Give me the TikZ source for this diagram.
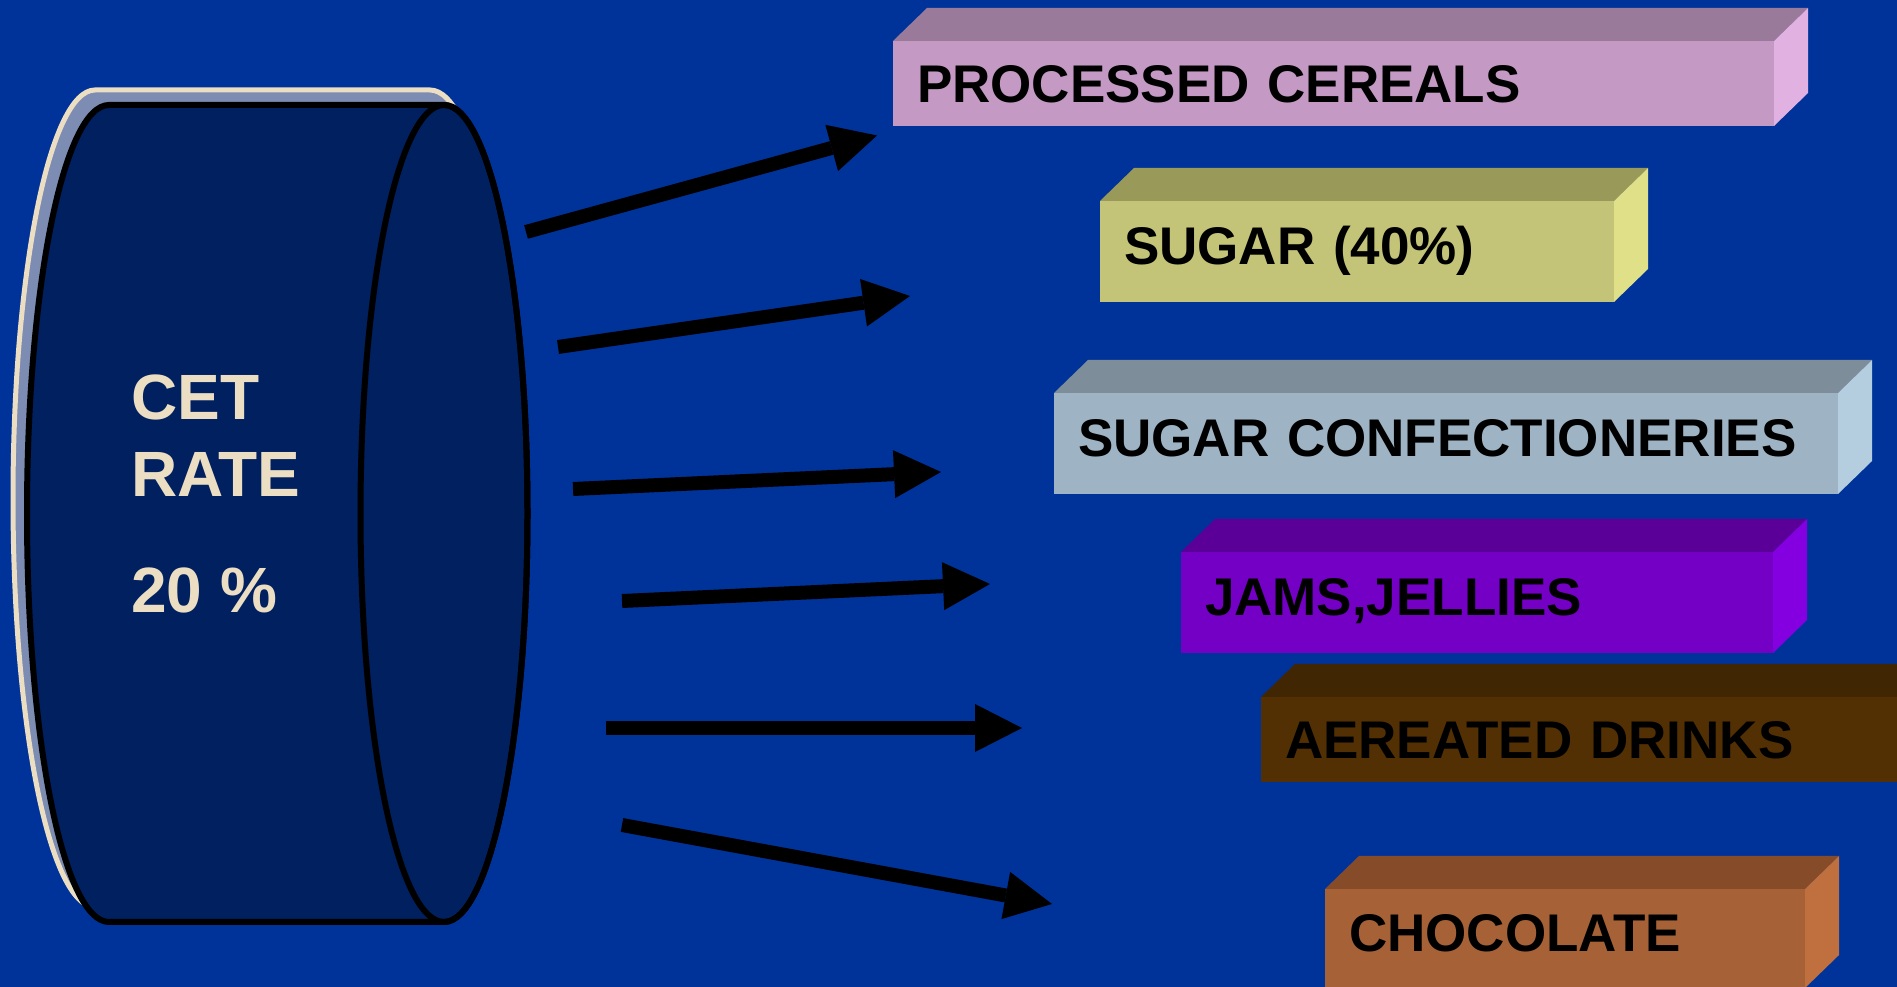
\documentclass[tikz,border=0pt]{standalone}
\usepackage{fontspec}
\setmainfont{Liberation Sans}
\usetikzlibrary{arrows.meta, calc}

\definecolor{slideblue}{RGB}{0,51,153}
\definecolor{drumdark}{RGB}{0,32,96}
\definecolor{drumgrey}{RGB}{125,140,178}
\definecolor{cream}{RGB}{235,222,195}
\definecolor{cerealfront}{RGB}{196,154,196}
\definecolor{cerealtop}{RGB}{154,122,154}
\definecolor{cerealside}{RGB}{225,177,225}
\definecolor{sugarfront}{RGB}{196,196,120}
\definecolor{sugartop}{RGB}{153,153,89}
\definecolor{sugarside}{RGB}{224,224,136}
\definecolor{confectfront}{RGB}{158,180,196}
\definecolor{confecttop}{RGB}{125,141,153}
\definecolor{confectside}{RGB}{180,206,224}
\definecolor{jamsfront}{RGB}{115,0,196}
\definecolor{jamstop}{RGB}{90,0,153}
\definecolor{jamsside}{RGB}{132,0,224}
\definecolor{drinksfront}{RGB}{82,48,4}
\definecolor{drinkstop}{RGB}{64,38,3}
\definecolor{drinksside}{RGB}{100,60,8}
\definecolor{chocfront}{RGB}{166,98,54}
\definecolor{choctop}{RGB}{134,76,42}
\definecolor{chocside}{RGB}{192,112,62}

% outline of the drum: flat left end, body and right end
\newcommand{\drumoutline}{(444,882) -- (109,882)
  arc[start angle=90, end angle=270, x radius=82, y radius=408.5]
  -- (444,65)
  arc[start angle=-90, end angle=90, x radius=83.5, y radius=408.5] -- cycle}

\begin{document}
\begin{tikzpicture}[x=1pt, y=1pt,
  crate/.style={anchor=north west, inner ysep=0pt, inner xsep=24pt, outer sep=0pt,
    font=\fontsize{53}{53}\selectfont\bfseries, text height=38pt, text depth=0pt,
    align=left},
  feed/.style={line width=14pt, -{Triangle[length=47pt, width=48pt, line width=0pt]}},
  drumtext/.style={anchor=base west, inner sep=0pt, text=cream,
    font=\fontsize{64}{64}\selectfont\bfseries}
  ]
  \useasboundingbox (0,0) rectangle (1897,987);
  \clip (0,0) rectangle (1897,987);
  \fill[slideblue] (0,0) rectangle (1897,987);

  % drum
  \begin{scope}[shift={(-14,15)}]
    \filldraw[draw=cream, fill=drumgrey, line width=5pt] \drumoutline;
  \end{scope}
  \filldraw[draw=black, fill=drumdark, line width=6pt] \drumoutline;
  \draw[line width=6pt] (444,473.5) ellipse[x radius=83.5, y radius=408.5];

  \node[drumtext] (cet) at (131,567) {CET};
  \node[drumtext] (rate) at (131,490) {RATE};
  \node[drumtext] (pct) at (131,374) {20 \%};

  % product boxes
  \node[crate, fill=cerealfront, minimum height=85pt, text width=833pt]
    (cereal) at (893,946) {PROCESSED CEREALS};
  \node[crate, fill=sugarfront, minimum height=101pt, text width=466pt, text depth=12pt]
    (sugar) at (1100,786) {SUGAR (40\%)};
  \node[crate, fill=confectfront, minimum height=101pt, text width=736pt, text depth=12pt]
    (confect) at (1054,594) {SUGAR CONFECTIONERIES};
  \node[crate, fill=jamsfront, minimum height=101pt, text width=544pt, text depth=12pt]
    (jams) at (1181,435) {JAMS,JELLIES};
  \node[crate, fill=drinksfront, minimum height=85pt, text width=632pt]
    (drinks) at (1261,290) {AEREATED DRINKS};
  \node[crate, fill=chocfront, minimum height=99pt, text width=432pt, text depth=12pt]
    (choc) at (1325,98) {CHOCOLATE};

  \foreach \b in {cereal, sugar, confect, jams, drinks, choc} {
    \fill[\b top] (\b.north west) -- ++(34,33) -- ($(\b.north east)+(34,33)$)
      -- (\b.north east) -- cycle;
    \fill[\b side] (\b.north east) -- ++(34,33) -- ($(\b.south east)+(34,33)$)
      -- (\b.south east) -- cycle;
  }

  % arrows
  \foreach \i/\sx/\sy/\ex/\ey in {1/526/755/877/851.5, 2/558/640/910/691,
      3/573/498/941/515, 4/622/386/990/403, 5/606/259/1022/259, 6/622/162/1052/83} {
    \coordinate (from\i) at (\sx,\sy);
    \coordinate (to\i) at (\ex,\ey);
    \draw[feed] (from\i) -- (to\i);
  }
\end{tikzpicture}
\end{document}
